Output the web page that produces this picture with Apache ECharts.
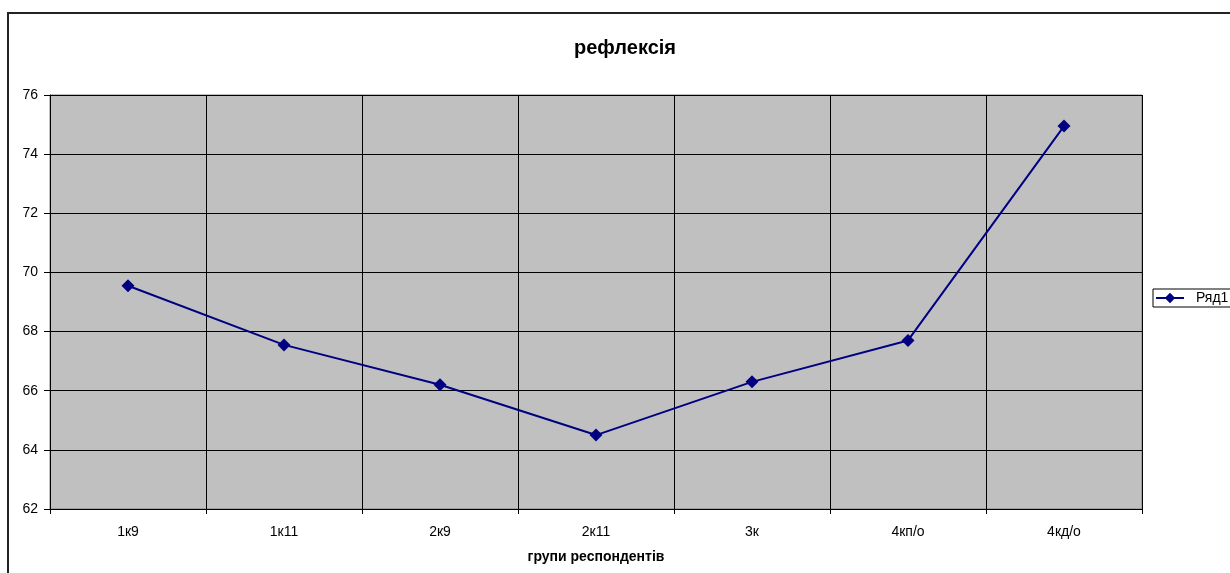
<!DOCTYPE html>
<html>
<head>
<meta charset="utf-8">
<script src="https://cdn.jsdelivr.net/npm/echarts@6/dist/echarts.min.js"></script>
<style>
  html, body { margin: 0; padding: 0; background: #fff; }
  #chart { width: 1230px; height: 573px; }
</style>
</head>
<body>
<div id="chart"></div>
<script>
// Respondent groups and their reflection scores
const categories = ['1к9', '1к11', '2к9', '2к11', '3к', '4кп/о', '4кд/о'];
const values = [69.55, 67.55, 66.2, 64.5, 66.3, 67.7, 74.95];
const yTicks = { min: 62, max: 76, interval: 2 };
const seriesName = 'Ряд1';

const chart = echarts.init(document.getElementById('chart'), null, { renderer: 'canvas' });
const font = '"Liberation Sans", Arial, sans-serif';

chart.setOption({
  animation: false,
  backgroundColor: '#ffffff',
  textStyle: { fontFamily: font },
  title: {
    text: 'рефлексія',
    left: 569,
    top: 33,
    textStyle: { fontFamily: font, fontSize: 20, fontWeight: 'bold', color: '#000' }
  },
  graphic: [{
    type: 'rect',
    silent: true,
    z: -1,
    shape: { x: 8, y: 13, width: 1300, height: 700 },
    style: { fill: null, stroke: '#222', lineWidth: 2 }
  }],
  legend: {
    show: true,
    left: 1153,
    top: 289,
    orient: 'vertical',
    padding: [2, 6, 2, 2],
    itemWidth: 28,
    itemHeight: 13,
    itemGap: 0,
    borderColor: '#000',
    borderWidth: 1,
    borderRadius: 0,
    backgroundColor: '#fff',
    lineStyle: { width: 2 },
    textStyle: { fontFamily: font, fontSize: 14, color: '#000', padding: [0, 0, 0, 7] },
    data: [seriesName]
  },
  grid: {
    left: 50,
    top: 95,
    width: 1092,
    height: 414,
    show: true,
    backgroundColor: '#C0C0C0',
    borderColor: '#808080',
    borderWidth: 1,
    containLabel: false
  },
  xAxis: {
    type: 'category',
    data: categories,
    boundaryGap: true,
    name: 'групи респондентів',
    nameLocation: 'middle',
    nameGap: 41,
    nameTextStyle: { fontFamily: font, fontSize: 14, fontWeight: 'bold', color: '#000' },
    axisLine: { show: true, lineStyle: { color: '#000', width: 1 } },
    axisTick: { show: true, alignWithLabel: false, length: 5, lineStyle: { color: '#000' } },
    axisLabel: { fontFamily: font, fontSize: 14, color: '#000', margin: 16 },
    splitLine: { show: true, lineStyle: { color: '#000', width: 1 } }
  },
  yAxis: {
    type: 'value',
    min: yTicks.min,
    max: yTicks.max,
    interval: yTicks.interval,
    axisLine: { show: true, lineStyle: { color: '#000', width: 1 } },
    axisTick: { show: true, length: 6, lineStyle: { color: '#000' } },
    axisLabel: { fontFamily: font, fontSize: 14, color: '#000', margin: 12 },
    splitLine: { show: true, lineStyle: { color: '#000', width: 1 } }
  },
  series: [{
    name: seriesName,
    type: 'line',
    data: values,
    symbol: 'diamond',
    symbolSize: 13,
    lineStyle: { color: '#000080', width: 2 },
    itemStyle: { color: '#000080' }
  }]
});
</script>
</body>
</html>
